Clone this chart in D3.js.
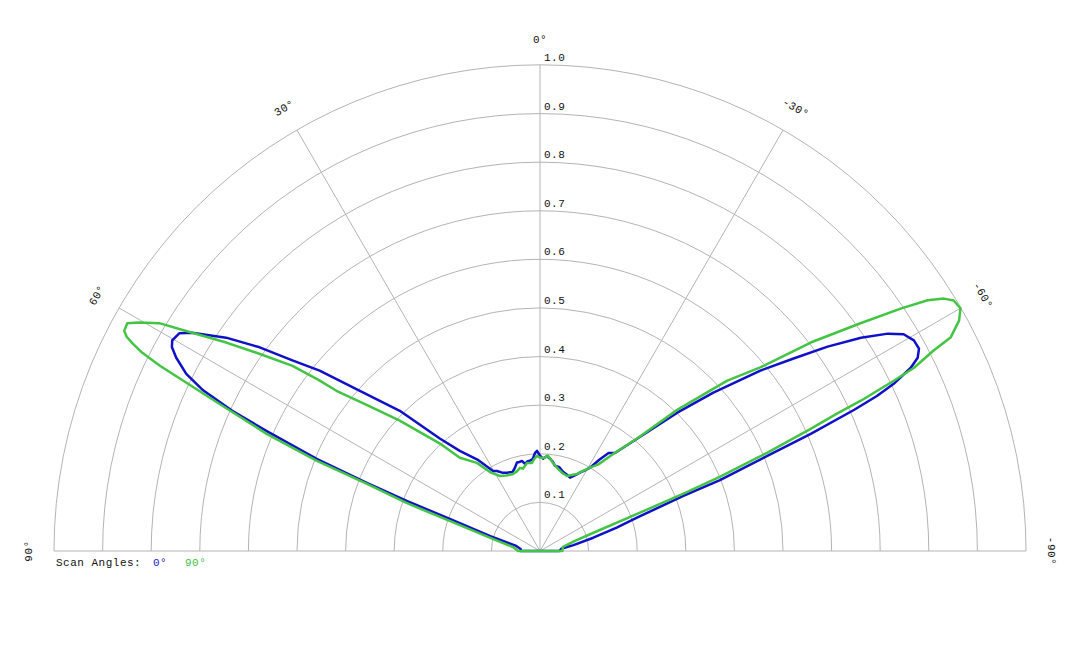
<!DOCTYPE html>
<html lang="en">
<head>
    <meta charset="UTF-8">
    <script type="text/javascript" src="https://cdn.jsdelivr.net/npm/d3@7/dist/d3.min.js"></script>
    <title>Scan pattern</title>
    <style>
        body { margin: 0; background: #fff; }
        text { font-family: "Liberation Mono", "DejaVu Sans Mono", monospace; letter-spacing: 0.5px; }
    </style>
</head>
<body>
</body>
<script>

    // scan angle 0° (blue), angle in degrees (+ = left), value 0..1
    let scan0Angles = [-90, -84, -80, -76, -73, -71, -69, -68.5, -67.3, -66.6, -65.8, -65.3, -64.7, -63.7, -62.9, -61.9,
        -60.6, -59.2, -58, -56.4, -54.6, -52.8, -50.7, -47.6, -44.8, -41, -37.4, -35, -33, -31, -29.5, -27, -25, -22.3,
        -20, -16, -13, -10, -8, -6.2, -4.2, -1.9, 0, 1.7, 2.9, 4.5, 6.3, 8, 9.8, 11.3, 13, 14.6, 17, 19.3, 22.9, 25.4,
        28.3, 30.4, 34.4, 38.7, 41.7, 45, 48.4, 50.7, 52.4, 54, 55.8, 57.9, 58.9, 60.2, 61, 62, 63.4, 64.5, 65.5, 66.3,
        67.6, 68.5, 69.4, 70.4, 73.3, 78, 84, 90];
    let scan0Values = [0.040, 0.044, 0.07, 0.113, 0.165, 0.211, 0.316, 0.398, 0.507, 0.607, 0.709, 0.763, 0.805, 0.851,
        0.873, 0.884, 0.883, 0.871, 0.844, 0.793, 0.726, 0.655, 0.586, 0.483, 0.401, 0.308, 0.254, 0.246, 0.224, 0.200,
        0.192, 0.181, 0.172, 0.163, 0.166, 0.170, 0.177, 0.178, 0.186, 0.191, 0.196, 0.190, 0.196, 0.206, 0.202, 0.190,
        0.187, 0.186, 0.182, 0.189, 0.188, 0.188, 0.178, 0.172, 0.175, 0.178, 0.187, 0.191, 0.228, 0.264, 0.310, 0.408,
        0.497, 0.586, 0.643, 0.713, 0.781, 0.845, 0.867, 0.872, 0.866, 0.848, 0.814, 0.768, 0.696, 0.615, 0.497, 0.383,
        0.293, 0.197, 0.108, 0.05, 0.04, 0.040];

    // scan angle 90° (green)
    let scan90Angles = [-90, -80, -74, -71.2, -69.1, -68.2, -67.6, -66.6, -65.7, -65.2, -64.9, -64.3, -63.9, -63, -62.5,
        -61.2, -60, -58.8, -58, -57.1, -56.1, -54.6, -52.4, -50.2, -47.7, -44.2, -41, -37, -34, -31, -28, -25.7, -22,
        -19.8, -16, -12.4, -8.4, -6.5, -4.8, -3.1, 0, 1.8, 3.5, 5.2, 8.4, 10, 11.7, 13.5, 16, 19.3, 24, 28.1, 32, 35.6,
        40.7, 43, 47.1, 50, 51.8, 52.3, 53.2, 54.9, 56.4, 57.9, 59.1, 60.3, 61.1, 62.1, 62.6, 63, 63.5, 64, 64.6, 65.3,
        66, 66.8, 68, 68.8, 70.2, 71.6, 75, 82, 90];
    let scan90Values = [0.046, 0.048, 0.075, 0.115, 0.214, 0.318, 0.400, 0.510, 0.611, 0.67, 0.729, 0.808, 0.857, 0.909,
        0.953, 0.984, 0.999, 0.995, 0.980, 0.950, 0.894, 0.809, 0.703, 0.590, 0.521, 0.405, 0.31, 0.250, 0.215, 0.200,
        0.186, 0.176, 0.168, 0.164, 0.167, 0.173, 0.183, 0.19, 0.197, 0.192, 0.192, 0.196, 0.19, 0.182, 0.183, 0.178,
        0.173, 0.176, 0.171, 0.168, 0.170, 0.175, 0.19, 0.223, 0.253, 0.303, 0.394, 0.47, 0.533, 0.576, 0.636, 0.706,
        0.775, 0.845, 0.913, 0.949, 0.970, 0.968, 0.958, 0.941, 0.915, 0.871, 0.80, 0.73, 0.67, 0.612, 0.496, 0.383,
        0.292, 0.196, 0.107, 0.055, 0.045];

    let ringTicks = [0.1, 0.2, 0.3, 0.4, 0.5, 0.6, 0.7, 0.8, 0.9, 1.0];
    let spokeAngles = [90, 60, 30, 0, -30, -60, -90];
    let legendTitle = "Scan Angles:";
    let legendLabels = ["0°", "90°"];

    let width = 1080,
        height = 648,
        cx = 540,
        cy = 551,
        radius = 486,
        colors = ["#1010c8", "#44c444"],
        legendColors = ["#2020c0", "#40c040"];

    let r = d3.scaleLinear().domain([0, 1]).range([0, radius]);
    let rad = a => -a * Math.PI / 180;

    let svg = d3.select("body")
        .append("svg")
        .attr("width", width)
        .attr("height", height);

    let g = svg.append("g").attr("transform", `translate(${cx},${cy})`);

    // rings
    g.selectAll("path.ring")
        .data(ringTicks)
        .enter()
        .append("path")
        .attr("class", "ring")
        .attr("d", d => {
            let p = d3.path();
            p.moveTo(-r(d), 0);
            p.arc(0, 0, r(d), Math.PI, 2 * Math.PI);
            return p.toString();
        })
        .attr("fill", "none")
        .attr("stroke", "#b4b4b4")
        .attr("stroke-width", 1);

    // spokes
    g.selectAll("line.spoke")
        .data(spokeAngles.filter(a => Math.abs(a) < 90))
        .enter()
        .append("line")
        .attr("class", "spoke")
        .attr("x1", 0).attr("y1", 0)
        .attr("x2", d => -r(1) * Math.sin(d * Math.PI / 180))
        .attr("y2", d => -r(1) * Math.cos(d * Math.PI / 180))
        .attr("stroke", "#b4b4b4")
        .attr("stroke-width", 1);

    g.append("line")
        .attr("x1", -r(1)).attr("x2", r(1))
        .attr("y1", 0).attr("y2", 0)
        .attr("stroke", "#b4b4b4")
        .attr("stroke-width", 1);

    // ring labels
    g.selectAll("text.ring-label")
        .data(ringTicks)
        .enter()
        .append("text")
        .attr("class", "ring-label")
        .attr("x", 4)
        .attr("y", d => -r(d) - 4)
        .attr("font-size", "11px")
        .attr("fill", "#111")
        .text(d => d.toFixed(1));

    // angle labels
    g.selectAll("text.angle-label")
        .data(spokeAngles)
        .enter()
        .append("text")
        .attr("class", "angle-label")
        .attr("transform", d => {
            let rr = r(1) + 22;
            let x = -rr * Math.sin(d * Math.PI / 180),
                y = -rr * Math.cos(d * Math.PI / 180);
            return `translate(${x},${y}) rotate(${-d})`;
        })
        .attr("text-anchor", "middle")
        .attr("font-size", "11px")
        .attr("fill", "#111")
        .text(d => d + "°");

    // patterns
    let series = [
        scan0Angles.map((a, i) => ({angle: a, value: scan0Values[i]})),
        scan90Angles.map((a, i) => ({angle: a, value: scan90Values[i]}))
    ];

    let line = d3.lineRadial()
        .angle(d => rad(d.angle))
        .radius(d => r(d.value))
        .curve(d3.curveLinearClosed);

    g.selectAll("path.pattern")
        .data(series)
        .enter()
        .append("path")
        .attr("class", "pattern")
        .attr("d", d => line(d))
        .attr("fill", "none")
        .attr("stroke", (d, i) => colors[i])
        .attr("stroke-width", 2.5)
        .attr("stroke-linejoin", "round");

    // legend
    svg.append("text")
        .attr("x", 56)
        .attr("y", 566)
        .attr("font-size", "11px")
        .attr("fill", "#111")
        .text(legendTitle);

    svg.selectAll("text.legend")
        .data(legendLabels)
        .enter()
        .append("text")
        .attr("class", "legend")
        .attr("x", (d, i) => 153 + i * 32)
        .attr("y", 566)
        .attr("font-size", "11px")
        .attr("fill", (d, i) => legendColors[i])
        .text(d => d);

</script>
</html>
